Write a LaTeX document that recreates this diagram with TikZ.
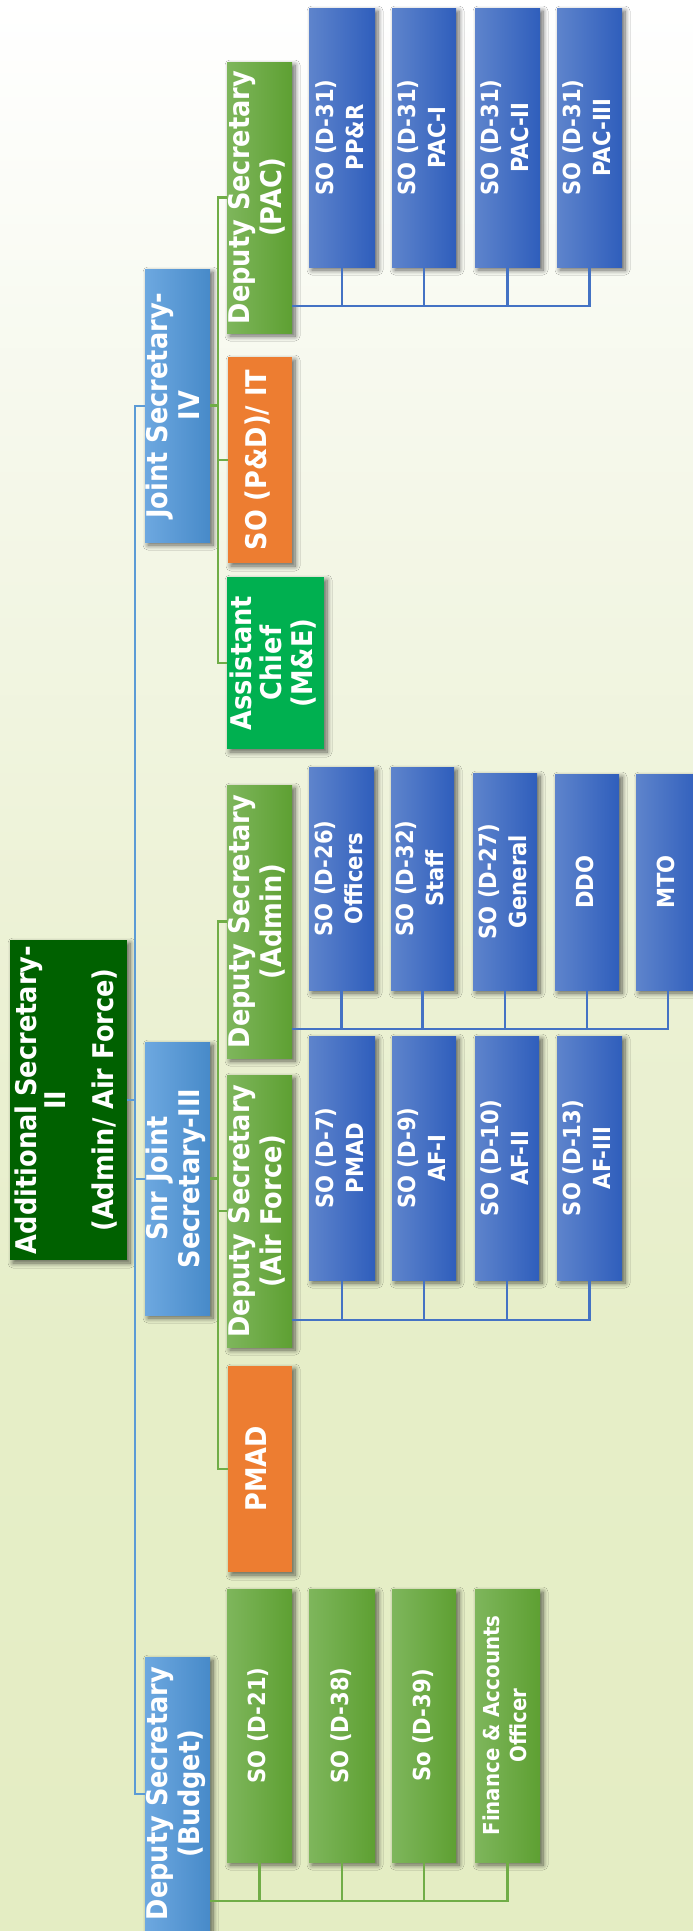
\documentclass[tikz,border=0pt]{standalone}
\usepackage{fontspec}
\setmainfont{DejaVu Sans}[FakeStretch=0.9]
\usepackage{graphicx}
\usetikzlibrary{shadows.blur,calc}

\definecolor{soL}{HTML}{5E84CC}
\definecolor{soR}{HTML}{2F5EBC}
\definecolor{jsL}{HTML}{6DA8E0}
\definecolor{jsR}{HTML}{478AC9}
\definecolor{grL}{HTML}{7EB65C}
\definecolor{grR}{HTML}{5EA032}
\definecolor{orC}{HTML}{ED7D31}
\definecolor{acC}{HTML}{00B050}
\definecolor{asC}{HTML}{006100}
\definecolor{lnB}{HTML}{4472C4}
\definecolor{lnA}{HTML}{5B9BD5}
\definecolor{lnG}{HTML}{70AD47}
\definecolor{shC}{HTML}{5A5A40}
\definecolor{bgA}{HTML}{E4EDC3}
\definecolor{bgB}{HTML}{E6EEC8}
\definecolor{bgC}{HTML}{EDF2D7}
\definecolor{bgD}{HTML}{F4F7E8}
\definecolor{bgE}{HTML}{FBFCF7}

\pgfdeclareverticalshading{bgshade}{100bp}{color(0bp)=(bgA); color(25bp)=(bgA); color(40bp)=(bgB); color(52bp)=(bgC); color(62bp)=(bgD); color(70bp)=(bgE); color(75bp)=(white); color(100bp)=(white)}

\newcommand\vt[2]{\rotatebox{90}{#1\begin{tabular}{@{}c@{}}#2\end{tabular}}}
\newcommand\fL{\fontsize{28.5}{32}\selectfont\bfseries}
\newcommand\fS{\fontsize{23.5}{30}\selectfont\bfseries}

\tikzset{
  box/.style={inner sep=0pt, outer sep=0pt, anchor=north west, text=white,
    blur shadow={shadow xshift=3pt, shadow yshift=-3pt, shadow blur radius=5pt, shadow opacity=60, shadow blur steps=8, fill=shC}},
  soB/.style={box, left color=soL, right color=soR},
  jsB/.style={box, left color=jsL, right color=jsR},
  grB/.style={box, left color=grL, right color=grR},
  orB/.style={box, fill=orC},
  acB/.style={box, fill=acC},
  asB/.style={box, fill=asC},
  lineA/.style={draw=lnA, line width=2pt},
  lineB/.style={draw=lnB, line width=2.2pt},
  lineG/.style={draw=lnG, line width=2.2pt},
}

\begin{document}
\begin{tikzpicture}[x=1pt,y=-1pt]
\useasboundingbox (0,0) rectangle (693,1931);
\clip (0,0) rectangle (693,1931);
\shade[shading=bgshade] (0,0) rectangle (693,1931);

% level 0
\node[asB, minimum width=117pt, minimum height=320pt] (as) at (10,940)
  {\vt{\fontsize{28.5}{27}\selectfont\bfseries}{Additional Secretary-\\ II\\[18pt] (Admin/ Air Force)}};

% level 1
\node[jsB, minimum width=65pt, minimum height=273pt] (js4) at (145,269) {\vt{\fL}{Joint Secretary-\\IV}};
\node[jsB, minimum width=65pt, minimum height=273pt] (sjs) at (145,1042) {\vt{\fL}{Snr Joint\\Secretary-III}};
\node[jsB, minimum width=65pt, minimum height=273pt] (dsb) at (145,1657) {\vt{\fL}{Deputy Secretary\\(Budget)}};

% under JS-IV
\node[grB, minimum width=65pt, minimum height=271pt] (dspac) at (227,62) {\vt{\fL}{Deputy Secretary\\(PAC)}};
\node[orB, minimum width=64pt, minimum height=206pt] (sopd) at (228,357) {\vt{\fL}{SO (P\&D)/ IT}};
\node[acB, minimum width=97pt, minimum height=172pt] (acme) at (227,577) {\vt{\fontsize{28.5}{30}\selectfont\bfseries}{Assistant\\Chief\\(M\&E)}};

\node[soB, minimum width=66pt, minimum height=259pt] (pac1) at (309,8) {\vt{\fS}{SO (D-31)\\PP\&R}};
\node[soB, minimum width=64pt, minimum height=259pt] (pac2) at (392,8) {\vt{\fS}{SO (D-31)\\PAC-I}};
\node[soB, minimum width=65pt, minimum height=259pt] (pac3) at (475,8) {\vt{\fS}{SO (D-31)\\PAC-II}};
\node[soB, minimum width=65pt, minimum height=259pt] (pac4) at (557,8) {\vt{\fS}{SO (D-31)\\PAC-III}};

% under Snr JS-III
\node[grB, minimum width=65pt, minimum height=273pt] (dsadm) at (227,785) {\vt{\fL}{Deputy Secretary\\(Admin)}};
\node[grB, minimum width=65pt, minimum height=272pt] (dsaf) at (227,1075) {\vt{\fL}{Deputy Secretary\\(Air Force)}};
\node[orB, minimum width=64pt, minimum height=206pt] (pmad) at (228,1366) {\vt{\fL}{PMAD}};

\node[soB, minimum width=65pt, minimum height=223pt] (adm1) at (309,767) {\vt{\fS}{SO (D-26)\\Officers}};
\node[soB, minimum width=63pt, minimum height=223pt] (adm2) at (391,767) {\vt{\fS}{SO (D-32)\\Staff}};
\node[soB, minimum width=64pt, minimum height=217pt] (adm3) at (473,773) {\vt{\fS}{SO (D-27)\\General}};
\node[soB, minimum width=64pt, minimum height=216pt] (adm4) at (555,774) {\vt{\fS}{DDO}};
\node[soB, minimum width=64pt, minimum height=216pt] (adm5) at (636,774) {\vt{\fS}{MTO}};

\node[soB, minimum width=66pt, minimum height=244pt] (af1) at (309,1036) {\vt{\fS}{SO (D-7)\\PMAD}};
\node[soB, minimum width=64pt, minimum height=244pt] (af2) at (392,1036) {\vt{\fS}{SO (D-9)\\AF-I}};
\node[soB, minimum width=64pt, minimum height=244pt] (af3) at (475,1036) {\vt{\fS}{SO (D-10)\\AF-II}};
\node[soB, minimum width=65pt, minimum height=244pt] (af4) at (557,1036) {\vt{\fS}{SO (D-13)\\AF-III}};

% under DS Budget
\node[grB, minimum width=65pt, minimum height=273pt] (bud1) at (227,1589) {\vt{\fS}{SO (D-21)}};
\node[grB, minimum width=66pt, minimum height=273pt] (bud2) at (309,1589) {\vt{\fS}{SO (D-38)}};
\node[grB, minimum width=64pt, minimum height=273pt] (bud3) at (392,1589) {\vt{\fS}{So (D-39)}};
\node[grB, minimum width=65pt, minimum height=273pt] (bud4) at (475,1589) {\vt{\fontsize{22}{27}\selectfont\bfseries}{Finance \& Accounts\\Officer}};

% connectors from Additional Secretary
\coordinate (busA) at (135,0);
\draw[lineA] (as.east) -- (busA |- as.east);
\draw[lineA] (js4.west) -- (busA |- js4.west) -- (busA |- dsb.west) -- (dsb.west);
\draw[lineA] (sjs.west) -- (busA |- sjs.west);

% connectors from JS-IV
\coordinate (busG) at (218,0);
\draw[lineG] (js4.east) -- (busG |- js4.east);
\draw[lineG] (dspac.west) -- (busG |- dspac.west) -- (busG |- acme.west) -- (acme.west);
\draw[lineG] (sopd.west) -- (busG |- sopd.west);

% connectors from Snr JS-III
\draw[lineG] (sjs.east) -- (busG |- sjs.east);
\draw[lineG] (dsadm.west) -- (busG |- dsadm.west) -- (busG |- pmad.west) -- (pmad.west);
\draw[lineG] (dsaf.west) -- (busG |- dsaf.west);

% DS (PAC) row
\coordinate (pacbus) at ([yshift=27pt]dspac.south east);
\draw[lineB] (pacbus) -| (pac4.south);
\foreach \n in {1,2,3} \draw[lineB] (pac\n.south) -- (pac\n.south |- pacbus);

% DS (Admin) row
\coordinate (admbus) at ([yshift=29pt]dsadm.south east);
\draw[lineB] (admbus) -| (adm5.south);
\foreach \n in {1,2,3,4} \draw[lineB] (adm\n.south) -- (adm\n.south |- admbus);

% DS (Air Force) row
\coordinate (afbus) at ([yshift=27pt]dsaf.south east);
\draw[lineB] (afbus) -| (af4.south);
\foreach \n in {1,2,3} \draw[lineB] (af\n.south) -- (af\n.south |- afbus);

% DS (Budget) row
\coordinate (budbus) at ([yshift=29pt]dsb.south east);
\draw[lineG] (budbus) -| (bud4.south);
\foreach \n in {1,2,3} \draw[lineG] (bud\n.south) -- (bud\n.south |- budbus);
\end{tikzpicture}
\end{document}
